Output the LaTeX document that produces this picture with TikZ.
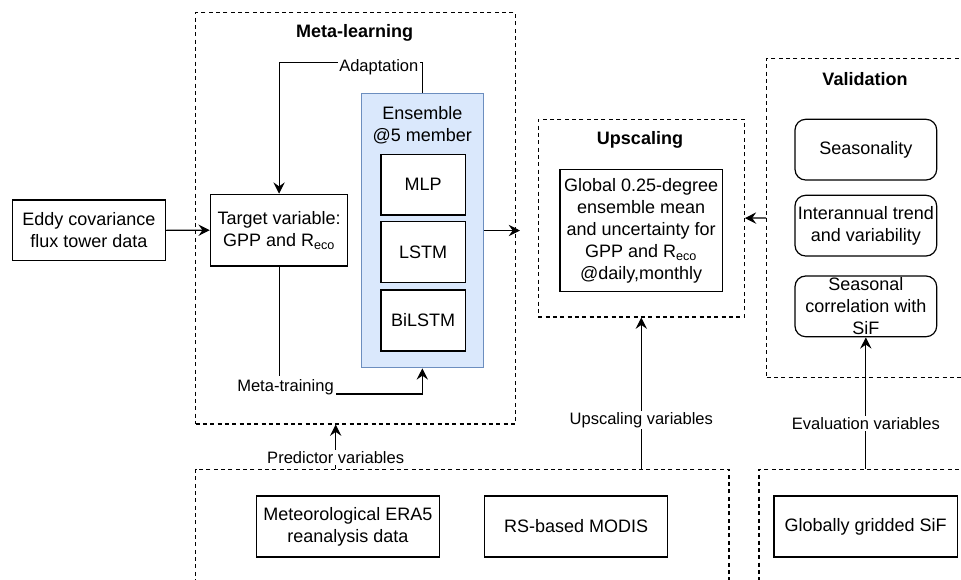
\documentclass[tikz,border=0pt]{standalone}
\usepackage{fontspec}
\setmainfont{Liberation Sans}
\usetikzlibrary{fit,arrows.meta}
\definecolor{ensfill}{HTML}{DAE8FC}
\definecolor{ensline}{HTML}{6C8EBF}

\begin{document}
\begin{tikzpicture}[x=0.75pt,y=-0.75pt,
    txt/.style={align=center,inner sep=0pt,font=\fontsize{13.5}{16.5}\selectfont},
    box/.style={draw,fill=white,line width=0.9pt,inner sep=0pt},
    rbox/.style={box,rounded corners=8pt},
    dbox/.style={draw,line width=0.8pt,dash pattern=on 3pt off 2.5pt,inner sep=0pt},
    ttl/.style={font=\fontsize{13.5}{16.5}\selectfont\bfseries},
    lbl/.style={fill=white,inner sep=1pt,font=\fontsize{12.4}{15}\selectfont},
    arr/.style={line width=0.9pt,-{Stealth[length=8.5pt,width=8.5pt,inset=3pt]}}]
  \clip (0,0) rectangle (961,579);

  % dashed groups
  \node[dbox,fit={(195.6,12.7) (515.5,424)}] (meta) {};
  \node[dbox,fit={(538.3,119.3) (744.3,317)}] (up) {};
  \node[dbox,fit={(766.7,58.3) (1000,377.7)}] (val) {};
  \node[dbox,fit={(195.6,469.3) (729,620)}] (inbox) {};
  \node[dbox,fit={(759,469.3) (1000,620)}] (sifbox) {};
  \node[ttl] (metat) at (354.7,33) {Meta-learning};
  \node[ttl] (upt) at (640,140) {Upscaling};
  \node[ttl] (valt) at (865,79) {Validation};

  % meta-learning
  \node[box,fit={(12.7,200) (165.3,260.7)},label={[txt]center:Eddy covariance\\flux tower data}] (eddy) {};
  \node[box,fit={(210.4,194.3) (347.8,266)},label={[txt]center:Target variable:\\GPP and R\textsubscript{eco}}] (tgt) {};
  \node[box,fill=ensfill,draw=ensline,fit={(361.2,93.3) (483.5,367.7)}] (ens) {};
  \node[txt] (enst) at (422.35,125) {Ensemble\\@5 member};
  \node[box,fit={(380.9,154.3) (465.2,215)},label={[txt]center:MLP}] (mlp) {};
  \node[box,fit={(380.9,221.3) (465.2,282.3)},label={[txt]center:LSTM}] (lstm) {};
  \node[box,fit={(380.9,290) (465.2,351)},label={[txt]center:BiLSTM}] (bilstm) {};

  % upscaling and validation
  \node[box,fit={(560,169.3) (722.3,291.7)},label={[txt]center:Global 0.25-degree\\ensemble mean\\and uncertainty for\\GPP and R\textsubscript{eco}\\@daily,monthly}] (glob) {};
  \node[rbox,fit={(795,119.3) (936.7,180)},label={[txt]center:Seasonality}] (seas) {};
  \node[rbox,fit={(795,195.3) (936.7,256)},label={[txt]center:Interannual trend\\and variability}] (iav) {};
  \node[rbox,fit={(795,276) (936.7,336.7)},label={[txt]center:Seasonal\\correlation with\\SiF}] (cor) {};

  % inputs
  \node[box,fit={(256.2,496) (439.7,557)},label={[txt]center:Meteorological ERA5\\reanalysis data}] (era) {};
  \node[box,fit={(484.5,496) (667.7,557)},label={[txt]center:RS-based MODIS}] (modis) {};
  \node[box,fit={(774,496) (957.3,557)},label={[txt]center:Globally gridded SiF}] (sif) {};

  \coordinate (metaout) at (520,230.5);
  \coordinate (pvsrc) at (335.7,469.3);

  \draw[arr] (eddy.east) -- (tgt.west);
  \draw[arr] (ens.east) -- (metaout);
  \draw[arr] (ens.north) -- ++(0,-30.6) -| (tgt.north);
  \node[lbl] (adapt) at (378.8,67.7) {Adaptation};
  \draw[arr] (tgt.south) -- ++(0,127.3) -| (ens.south);
  \node[lbl,inner xsep=2pt,inner ysep=3pt] (mtrain) at (285.5,387.7) {Meta-training};
  \draw[arr] (pvsrc) -- node[lbl,pos=0.265] {Predictor variables} (pvsrc |- meta.south);
  \draw[arr] (up.south |- inbox.north) -- node[lbl,pos=0.324] {Upscaling variables} (up.south);
  \draw[arr] (cor.south |- sifbox.north) -- node[lbl,pos=0.347] {Evaluation variables} (cor.south);
  \draw[arr] (val.west) -- (up.east);
\end{tikzpicture}
\end{document}
